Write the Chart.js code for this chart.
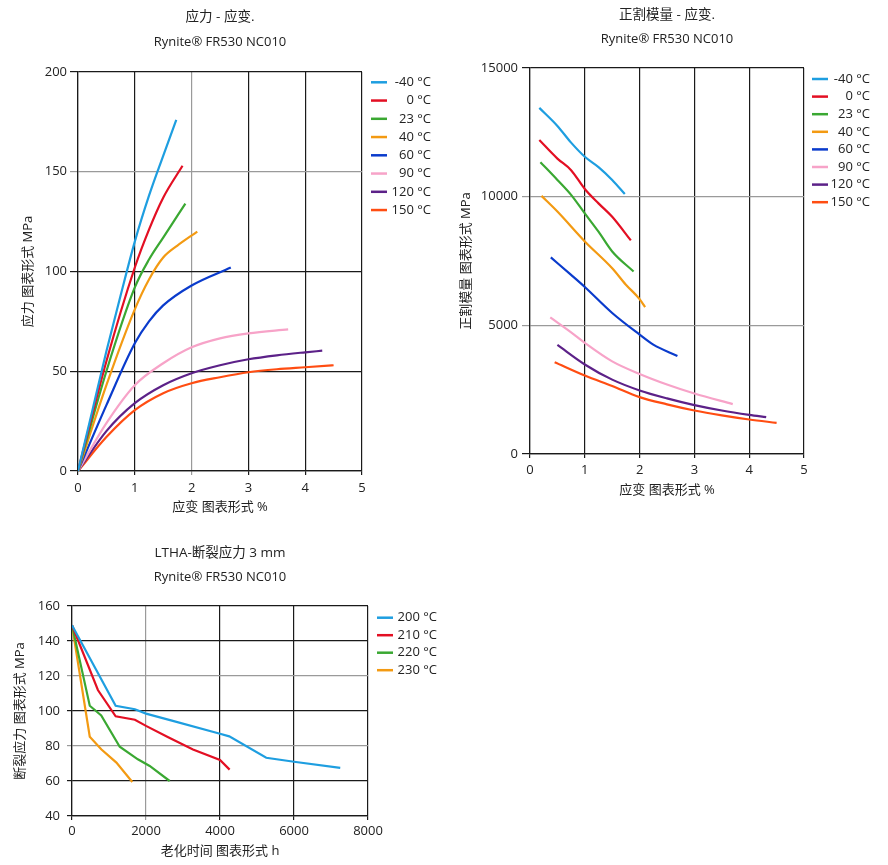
<!DOCTYPE html>
<html>
<head>
<meta charset="utf-8">
<script src="https://cdn.jsdelivr.net/npm/chart.js@4.4.1/dist/chart.umd.min.js"></script>
<style>
  body { margin: 0; background: #fff; width: 888px; height: 865px; position: relative; overflow: hidden; }
  .box { position: absolute; }
</style>
</head>
<body>
<div class="box" style="left:0;top:0;width:444px;height:520px"><canvas id="stress"></canvas></div>
<div class="box" style="left:444px;top:0;width:444px;height:520px"><canvas id="modulus"></canvas></div>
<div class="box" style="left:0;top:530px;width:460px;height:335px"><canvas id="ltha"></canvas></div>
<script>
'use strict';

// ---- data ----
const strainTemps = ['-40 °C', '0 °C', '23 °C', '40 °C', '60 °C', '90 °C', '120 °C', '150 °C'];
const strainColors = ['#1e9ee0', '#e30f23', '#3aa832', '#f39a12', '#0a3bcc', '#f7a3c8', '#5c2188', '#ff4d12'];

// stress (MPa) vs strain (%)
const stressM40 = [[0,0],[0.25,30],[0.5,60],[0.75,88],[1,115],[1.25,138],[1.5,158],[1.73,176]];
const stress0   = [[0,0],[0.5,55],[1,102],[1.25,121],[1.5,137],[1.84,153]];
const stress23  = [[0,0],[0.5,50],[1,92],[1.25,106],[1.5,117],[1.89,134]];
const stress40  = [[0,0],[0.5,43],[1,81],[1.25,96],[1.5,107],[1.75,113],[2.1,120]];
const stress60  = [[0,0],[0.5,33],[1,64],[1.25,75],[1.5,83],[2,93],[2.69,102]];
const stress90  = [[0,0],[0.5,24],[1,43],[1.5,54],[2,62],[2.5,66.5],[3,69],[3.7,71]];
const stress120 = [[0,0],[0.5,20],[1,34],[1.5,43],[2,49],[2.5,53],[3,56],[3.5,58],[4,59.5],[4.3,60.3]];
const stress150 = [[0,0],[0.5,17],[1,30.5],[1.5,39],[2,44],[2.5,47],[3,49.5],[3.5,51],[4,52],[4.5,53]];

// secant modulus (MPa) vs strain (%)
const modM40 = [[0.17,13450],[0.5,12750],[0.75,12100],[1,11550],[1.25,11150],[1.5,10650],[1.73,10100]];
const mod0   = [[0.17,12200],[0.5,11480],[0.75,11030],[1,10300],[1.25,9740],[1.5,9220],[1.84,8300]];
const mod23  = [[0.19,11340],[0.5,10650],[0.75,10070],[1,9350],[1.25,8640],[1.5,7870],[1.89,7090]];
const mod40  = [[0.21,10030],[0.5,9420],[1,8260],[1.5,7220],[1.75,6580],[2,6020],[2.1,5710]];
const mod60  = [[0.38,7640],[0.75,6960],[1,6490],[1.5,5480],[2,4640],[2.25,4250],[2.69,3810]];
const mod90  = [[0.37,5310],[0.75,4730],[1,4320],[1.5,3600],[2,3110],[2.5,2700],[3,2350],[3.7,1940]];
const mod120 = [[0.5,4240],[1,3480],[1.5,2890],[2,2470],[2.5,2160],[3,1900],[3.5,1690],[4,1520],[4.31,1430]];
const mod150 = [[0.45,3570],[1,3050],[1.5,2640],[2,2210],[2.5,1930],[3,1690],[3.5,1500],[4,1340],[4.5,1210]];

// LTHA break stress (MPa) vs ageing time (h)
const agingTemps = ['200 °C', '210 °C', '220 °C', '230 °C'];
const agingColors = ['#1e9ee0', '#e30f23', '#3aa832', '#f39a12'];
const ltha200 = [[0,149],[1180,103],[1700,101],[2000,98.5],[2700,94.5],[4000,87],[4250,85.5],[5250,73.3],[6000,71],[7250,67.5]];
const ltha210 = [[0,149],[700,112],[1180,97],[1700,95],[2000,91.5],[2600,85],[3270,78],[4000,72],[4260,66.5]];
const ltha220 = [[0,149],[480,103],[790,97.5],[1290,79.6],[1780,72.4],[2100,68.6],[2640,60]];
const ltha230 = [[0,149],[480,85.3],[790,78.1],[1200,70.5],[1630,59.4]];

const stressSeries = [stressM40, stress0, stress23, stress40, stress60, stress90, stress120, stress150];
const modSeries = [modM40, mod0, mod23, mod40, mod60, mod90, mod120, mod150];
const lthaSeries = [ltha200, ltha210, ltha220, ltha230];

const SUBTITLE = 'Rynite® FR530 NC010';
const FONT = "'Open Sans', 'Noto Sans CJK SC', sans-serif";
const INK = '#222';
const DARK = '#1a1a1a';
const LIGHT = '#9a9a9a';

Chart.defaults.font.family = FONT;
Chart.defaults.font.size = 13;
Chart.defaults.color = INK;

// titles centred over the plot area (the built-in title centres over the whole box)
const plotTitles = {
  id: 'plotTitles',
  afterDraw(chart, args, o) {
    const ctx = chart.ctx;
    const cx = (chart.chartArea.left + chart.chartArea.right) / 2;
    ctx.save();
    ctx.fillStyle = INK;
    ctx.textAlign = 'center';
    ctx.textBaseline = 'middle';
    ctx.font = '13.5px ' + FONT;
    ctx.fillText(o.title, cx, o.titleY);
    ctx.font = '13px ' + FONT;
    ctx.fillText(SUBTITLE, cx, o.subY);
    ctx.restore();
  }
};

// legend on the right, text right-aligned like the original
const sideLegend = {
  id: 'sideLegend',
  afterDraw(chart, args, o) {
    const ctx = chart.ctx;
    ctx.save();
    ctx.font = '13px ' + FONT;
    ctx.textAlign = 'right';
    ctx.textBaseline = 'middle';
    chart.data.datasets.forEach((ds, i) => {
      const y = o.top + i * o.step;
      ctx.strokeStyle = ds.borderColor;
      ctx.lineWidth = 2.5;
      ctx.beginPath();
      ctx.moveTo(o.x0, y);
      ctx.lineTo(o.x1, y);
      ctx.stroke();
      ctx.fillStyle = INK;
      ctx.fillText(ds.label, o.textRight, y);
    });
    ctx.restore();
  }
};

function makeSets(series, labels, colors, smooth) {
  return series.map((pts, i) => ({
    label: labels[i],
    data: pts.map(p => ({ x: p[0], y: p[1] })),
    borderColor: colors[i],
    borderWidth: 2.2,
    pointRadius: 0,
    fill: false,
    cubicInterpolationMode: smooth ? 'monotone' : 'default',
    tension: smooth ? 0.4 : 0
  }));
}

function gridColor(lightValues) {
  return ctx => (ctx.tick && lightValues.includes(ctx.tick.value)) ? LIGHT : DARK;
}

function axis(cfg) {
  return {
    type: 'linear',
    min: cfg.min,
    max: cfg.max,
    border: { display: true, color: DARK, width: 1.2 },
    grid: { color: gridColor(cfg.light), lineWidth: 1.2, tickLength: cfg.tickLength, drawTicks: true },
    ticks: { stepSize: cfg.step, padding: cfg.padding, color: INK, font: { size: 13 }, callback: v => String(v) },
    title: { display: true, text: cfg.title, color: INK, font: { size: 13, lineHeight: 1.2 }, padding: cfg.titlePad },
    afterFit: cfg.fit
  };
}

function makeChart(id, o) {
  return new Chart(document.getElementById(id), {
    type: 'line',
    data: { datasets: o.datasets },
    plugins: [plotTitles, sideLegend],
    options: {
      responsive: true,
      maintainAspectRatio: false,
      animation: false,
      layout: { padding: { left: 0, right: o.padRight, top: o.padTop, bottom: 0 } },
      plugins: {
        legend: { display: false },
        tooltip: { enabled: false },
        plotTitles: o.titles,
        sideLegend: o.legend
      },
      scales: { x: o.x, y: o.y }
    }
  });
}

makeChart('stress', {
  datasets: makeSets(stressSeries, strainTemps, strainColors, true),
  titles: { title: '应力 - 应变.', titleY: 17, subY: 42 },
  padTop: 72,
  padRight: 82,
  legend: { top: 82.3, step: 18.25, x0: 371, x1: 387, textRight: 431 },
  x: axis({ min: 0, max: 5, step: 1, light: [2], tickLength: 4, padding: 5, title: '应变 图表形式 %',
            titlePad: { top: 0, bottom: 5 }, fit: s => { s.height = 49; } }),
  y: axis({ min: 0, max: 200, step: 50, light: [150], tickLength: 8, padding: 3, title: '应力 图表形式 MPa',
            titlePad: { top: 20, bottom: 0 }, fit: s => { s.width = 78; } })
});

makeChart('modulus', {
  datasets: makeSets(modSeries, strainTemps, strainColors, true),
  titles: { title: '正割模量 - 应变.', titleY: 15, subY: 39 },
  padTop: 68,
  padRight: 84,
  legend: { top: 79, step: 17.6, x0: 368, x1: 384, textRight: 426 },
  x: axis({ min: 0, max: 5, step: 1, light: [], tickLength: 4, padding: 4, title: '应变 图表形式 %',
            titlePad: { top: 0, bottom: 22 }, fit: s => { s.height = 66; } }),
  y: axis({ min: 0, max: 15000, step: 5000, light: [5000, 10000], tickLength: 8, padding: 4, title: '正割模量 图表形式 MPa',
            titlePad: { top: 14, bottom: 0 }, fit: s => { s.width = 86; } })
});

makeChart('ltha', {
  datasets: makeSets(lthaSeries, agingTemps, agingColors, false),
  titles: { title: 'LTHA-断裂应力 3 mm', titleY: 23.3, subY: 47.3 },
  padTop: 76,
  padRight: 92,
  legend: { top: 87.7, step: 17.5, x0: 377, x1: 393, textRight: 437 },
  x: axis({ min: 0, max: 8000, step: 2000, light: [2000], tickLength: 4, padding: 3, title: '老化时间 图表形式 h',
            titlePad: { top: 0, bottom: 5.5 }, fit: s => { s.height = 49; } }),
  y: axis({ min: 40, max: 160, step: 20, light: [80, 120], tickLength: 5, padding: 7, title: '断裂应力 图表形式 MPa',
            titlePad: { top: 12, bottom: 0 }, fit: s => { s.width = 72; } })
});
</script>
</body>
</html>
